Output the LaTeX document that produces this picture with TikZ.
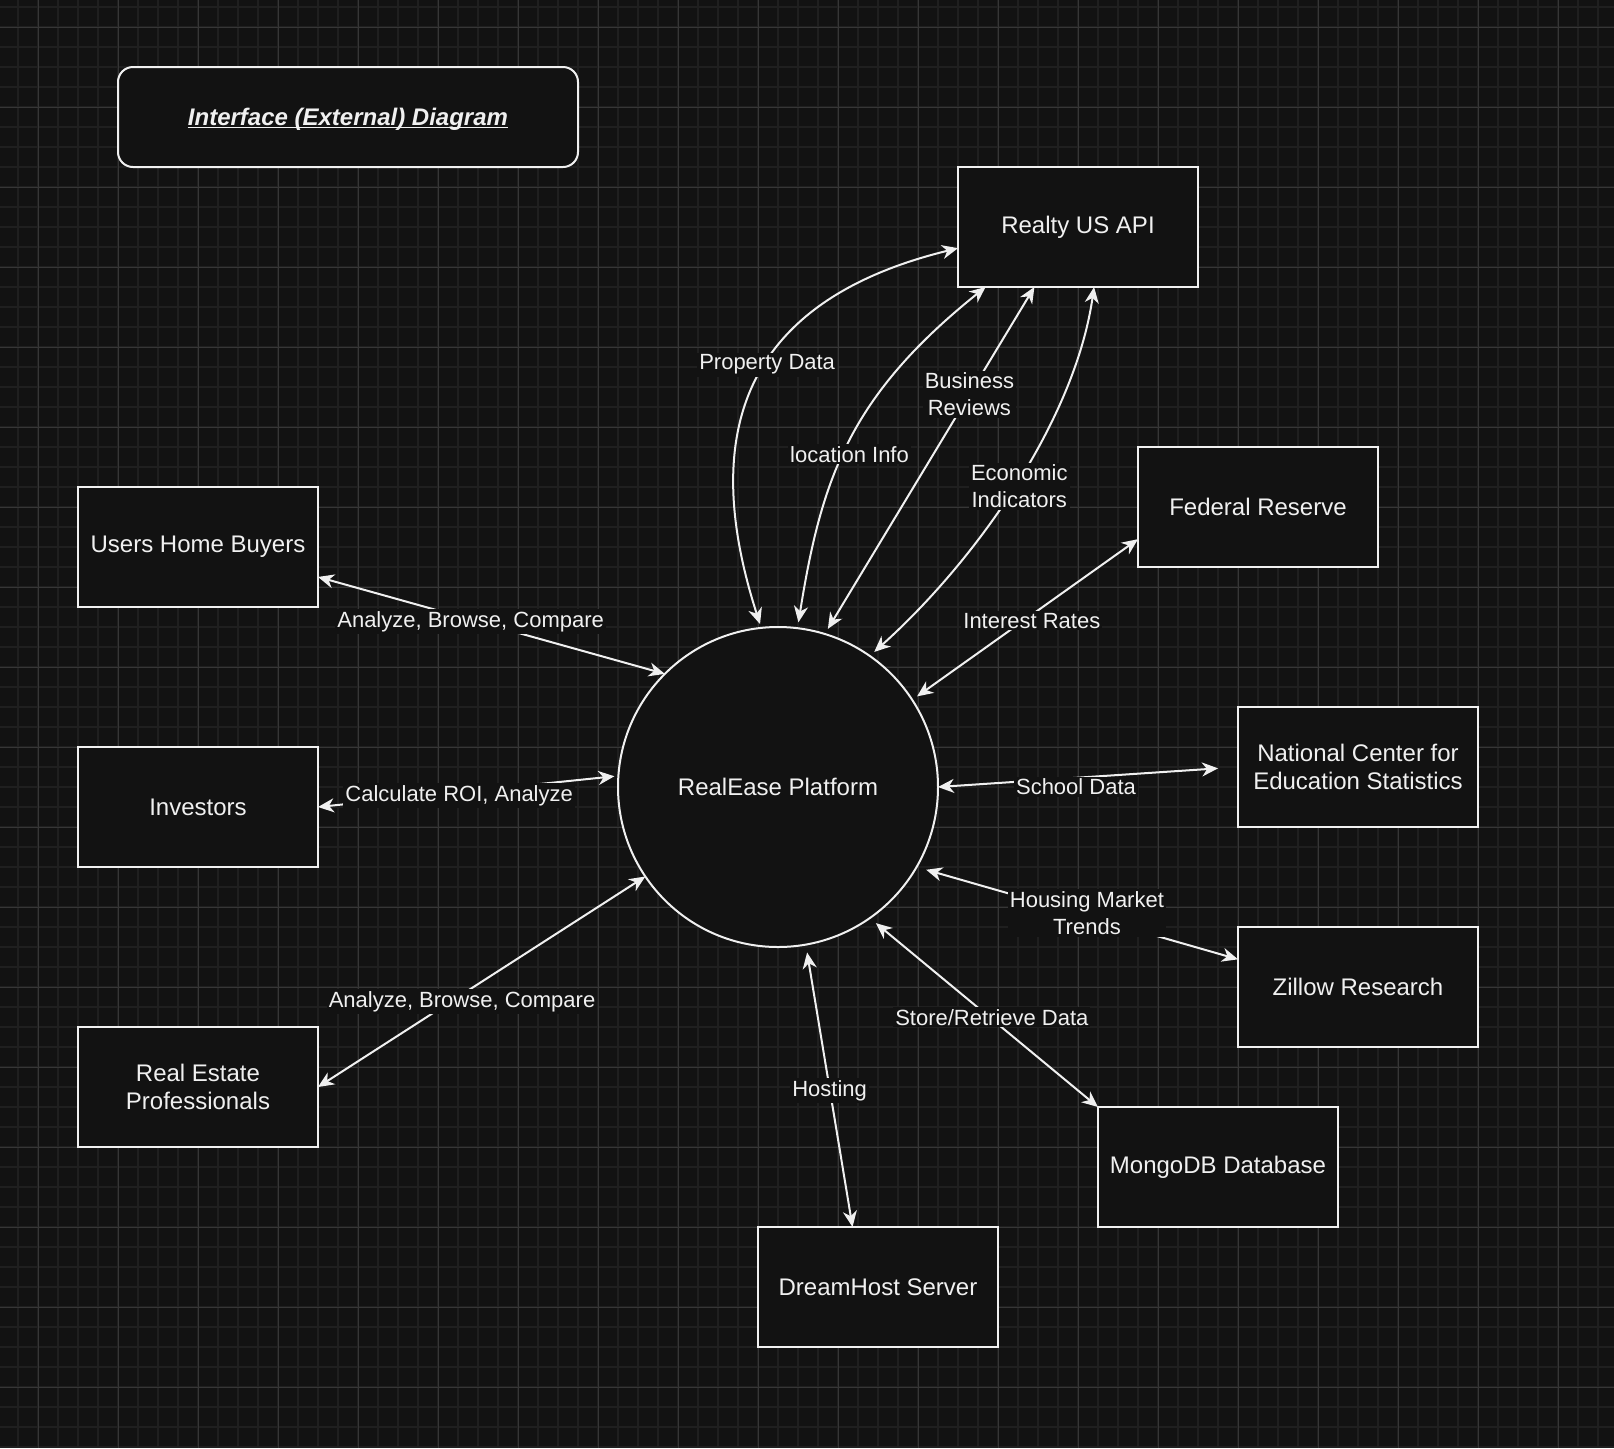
\documentclass[tikz,border=0pt]{standalone}
\usepackage{fontspec}
\setmainfont{Liberation Sans}
\usetikzlibrary{arrows.meta}

\definecolor{bgcol}{HTML}{121212}
\definecolor{inkcol}{HTML}{F0F0F0}
\definecolor{minorcol}{HTML}{1F1F1F}
\definecolor{majorcol}{HTML}{363636}

\begin{document}
\begin{tikzpicture}[x=0.5pt,y=-0.5pt,
  >={Stealth[length=8pt,width=7pt,inset=2.5pt]},
  minorline/.style={minorcol,line width=1pt},
  majorline/.style={majorcol,line width=0.5pt},
  entity/.style={draw=inkcol,fill=bgcol,line width=1pt,minimum width=120pt,minimum height=60pt,
    inner sep=2pt,outer sep=0pt,align=center,text=inkcol,font=\fontsize{12}{14.4}\selectfont},
  platform/.style={entity,circle,minimum size=160pt},
  titlebox/.style={draw=inkcol,fill=bgcol,line width=1pt,rounded corners=7.5pt,
    minimum width=230pt,minimum height=50pt,outer sep=0pt},
  titletext/.style={inner sep=0pt,text=inkcol,font=\fontsize{12}{14.4}\selectfont\bfseries\itshape},
  flow/.style={<->,draw=inkcol,line width=1pt},
  gap/.style={shorten <=3pt},
  flowlabel/.style={fill=bgcol,text=inkcol,inner sep=1pt,align=center,font=\fontsize{11}{13.5}\selectfont}]

\useasboundingbox (0,0) rectangle (1614,1448);
\fill[bgcol] (0,0) rectangle (1614,1448);
\foreach \gx in {18,38,...,1614} \draw[minorline] (\gx,0) -- (\gx,1448);
\foreach \gy in {7,27,...,1448} \draw[minorline] (0,\gy) -- (1614,\gy);
\foreach \gx in {38,118,...,1614} \draw[majorline] (\gx,0) -- (\gx,1448);
\foreach \gy in {27,107,...,1448} \draw[majorline] (0,\gy) -- (1614,\gy);

\node[titlebox] (title) at (348,117) {};
\node[titletext,anchor=base] (titletext) at ([yshift=-4pt]title.center) {Interface (External) Diagram};
\draw[inkcol,line width=0.6pt] ([yshift=-1.2pt]titletext.base west) -- ([yshift=-1.2pt]titletext.base east);

\node[entity] (realty) at (1078,227) {Realty US API};
\node[entity] (federal) at (1258,507) {Federal Reserve};
\node[entity] (users) at (198,547) {Users Home Buyers};
\node[entity] (investors) at (198,807) {Investors};
\node[entity] (rep) at (198,1087) {Real Estate\\Professionals};
\node[entity] (nces) at (1358,767) {National Center for\\Education Statistics};
\node[entity] (zillow) at (1358,987) {Zillow Research};
\node[entity] (mongo) at (1218,1167) {MongoDB Database};
\node[entity] (dreamhost) at (878,1287) {DreamHost Server};
\node[platform] (realease) at (778,787) {RealEase Platform};

\draw[flow,shorten <=2pt] (realease.96) .. controls +(-72,-223) and +(-188,46) .. node[flowlabel,xshift=2.5pt,yshift=3.5pt] (lprop) {Property Data} (realty.190);
\draw[flow,gap] (realease.83) .. controls +(24,-150) and +(-136,109) .. node[flowlabel,yshift=-6pt] (lloc) {location Info} (realty.213);
\draw[flow,gap] (realease.73) -- node[flowlabel,pos=0.69] (lbiz) {Business\\Reviews} (realty.234);
\draw[flow,gap] (realease.55) .. controls +(108,-97) and +(-19,132) .. node[flowlabel,xshift=2pt,yshift=-1pt] (lecon) {Economic\\Indicators} (realty.285);
\draw[flow,gap] (realease.33) -- node[flowlabel,pos=0.53,yshift=-3pt] (lrate) {Interest Rates} (federal.195);
\draw[flow,shorten >=10pt] (realease.0) -- node[flowlabel,pos=0.46,yshift=-4.5pt] (lschool) {School Data} (nces.west);
\draw[flow,shorten <=5pt] (realease.330) -- node[flowlabel,pos=0.53,yshift=1.5pt] (lhousing) {Housing Market\\Trends} (zillow.167);
\draw[flow,shorten <=4pt] (realease.305) -- node[flowlabel,pos=0.535,yshift=1pt] (lstore) {Store/Retrieve Data} (mongo.north west);
\draw[flow,shorten <=4pt] (realease.280) -- node[flowlabel,pos=0.51,yshift=-1pt] (lhost) {Hosting} (dreamhost.113);
\draw[flow] (users.346) -- node[flowlabel,pos=0.44,yshift=-1pt] (lusers) {Analyze, Browse, Compare} (realease.135);
\draw[flow,shorten >=2pt] (investors.east) -- node[flowlabel,pos=0.47,yshift=-1.5pt] (linv) {Calculate ROI, Analyze} (realease.176);
\draw[flow] (rep.east) -- node[flowlabel,pos=0.44,yshift=-3.5pt] (lrep) {Analyze, Browse, Compare} (realease.214);
\end{tikzpicture}
\end{document}
